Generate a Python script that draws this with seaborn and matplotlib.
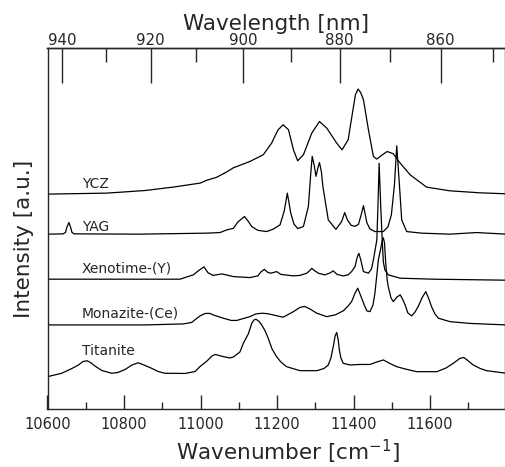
import numpy as np
import pandas as pd
import matplotlib
matplotlib.use('Agg')
import matplotlib.pyplot as plt
from matplotlib.ticker import MultipleLocator, FixedLocator
import seaborn as sns

# Spectra (wavenumber in cm-1, intensity offset in a.u.).

samples = ['YCZ', 'YAG', 'Xenotime-(Y)', 'Monazite-(Ce)', 'Titanite']

ycz_wn = [10600, 10755, 10855, 10928, 10999, 11016, 11042, 11069, 11086, 11129, 11164, 11186,
          11195, 11203, 11216, 11230, 11243, 11254, 11269, 11291, 11311, 11330, 11356, 11370,
          11386, 11400, 11405, 11412, 11419, 11426, 11439, 11452, 11461, 11472, 11488, 11504,
          11522, 11548, 11591, 11652, 11731, 11800]
ycz_int = [214.7, 215.7, 218.3, 221.7, 225.7, 228.5, 231.5, 237, 241, 247.3, 254, 265.7,
           273, 279, 284, 279, 259, 248, 254, 275.7, 287.3, 280.7, 265.7, 259,
           269, 302.3, 314, 319.7, 316, 309, 279, 252.3, 249.7, 253, 257.3, 255,
           245.7, 234, 221.7, 218, 216, 215]

yag_wn = [10600, 10641, 10647, 10651, 10656, 10660, 10664, 10669, 10842, 11016, 11051, 11069,
          11086, 11098, 11115, 11124, 11134, 11150, 11173, 11190, 11208, 11219, 11227, 11236,
          11244, 11254, 11269, 11282, 11288, 11292, 11297, 11302, 11307, 11311, 11316, 11320,
          11334, 11354, 11369, 11377, 11384, 11394, 11404, 11413, 11420, 11426, 11435, 11443,
          11456, 11478, 11490, 11499, 11507, 11513, 11520, 11526, 11539, 11578, 11652, 11722,
          11800]
yag_int = [174.7, 175, 176.5, 182, 186.3, 182, 176.5, 175, 174.7, 175.7, 176.3, 179,
           180.5, 187, 192.3, 188, 182.3, 178.5, 177.3, 179.7, 184, 198, 215.7, 195.7,
           185, 180.3, 182.3, 202.3, 234, 252.5, 244, 232.5, 241, 246.3, 237, 222.3,
           189, 179.5, 187.3, 196.3, 189, 183.5, 182.5, 184.5, 194, 203.2, 186, 180,
           177.3, 177.3, 182, 194, 224, 263, 224, 189, 177.3, 175.7, 174.7, 176.3,
           174.7]

xen_wn = [10600, 10946, 10981, 10994, 11009, 11020, 11033, 11056, 11067, 11086, 11129, 11150,
          11158, 11167, 11176, 11184, 11199, 11210, 11243, 11260, 11278, 11286, 11291, 11299,
          11308, 11325, 11339, 11347, 11357, 11373, 11386, 11395, 11404, 11410, 11414, 11419,
          11426, 11439, 11447, 11452, 11461, 11464, 11467, 11471, 11475, 11478, 11482, 11491,
          11522, 11609, 11800]
xen_int = [129.7, 129.7, 134, 138, 142, 136, 133.5, 135, 134, 132.3, 131.3, 133,
           137, 139.5, 136.5, 135.7, 137.3, 134.5, 133, 133.5, 135.7, 138.5, 140.5, 138,
           135.7, 134, 136, 138, 134.5, 133, 134, 137.3, 142.3, 152, 155.5, 149,
           137.3, 135.7, 140, 149, 169, 204, 245.5, 204, 169, 147, 139, 134,
           130.7, 129.7, 128.7]

mon_wn = [10600, 10855, 10955, 10977, 10990, 11001, 11013, 11025, 11033, 11060, 11080, 11095,
          11129, 11145, 11161, 11176, 11190, 11216, 11243, 11260, 11272, 11286, 11304, 11330,
          11352, 11373, 11386, 11395, 11404, 11411, 11418, 11428, 11435, 11443, 11451, 11456,
          11465, 11471, 11475, 11478, 11481, 11484, 11488, 11491, 11498, 11504, 11514, 11522,
          11528, 11535, 11542, 11552, 11561, 11569, 11579, 11589, 11596, 11604, 11613, 11622,
          11652, 11705, 11800]
mon_int = [84, 84, 85, 86.5, 90.5, 93.5, 95.5, 95.5, 94, 90.7, 88.5, 88.5,
           92.3, 95, 95.7, 95.2, 94, 91.7, 97.3, 101.5, 102.5, 100, 95.7, 92.3,
           94, 98, 103, 107.3, 115.7, 120.7, 114, 104, 98, 97.3, 104, 115.7,
           149, 160, 168, 171, 166, 147, 129, 122, 111, 107.3, 112, 114,
           110, 104, 96, 93, 97, 102.3, 111, 117.3, 111, 102.3, 95, 90.7,
           87.3, 85.5, 84]

tit_wn = [10600, 10637, 10664, 10681, 10693, 10704, 10714, 10724, 10742, 10768, 10784, 10803,
          10821, 10837, 10852, 10872, 10889, 10907, 10960, 10986, 10999, 11017, 11030, 11039,
          11048, 11060, 11077, 11086, 11103, 11112, 11125, 11134, 11140, 11145, 11153, 11160,
          11169, 11177, 11187, 11199, 11210, 11225, 11260, 11304, 11323, 11334, 11341, 11347,
          11352, 11356, 11360, 11363, 11367, 11373, 11391, 11417, 11443, 11461, 11478, 11495,
          11513, 11535, 11565, 11618, 11642, 11661, 11678, 11688, 11697, 11713, 11731, 11748,
          11800]
tit_int = [32.3, 35.7, 40.5, 44, 47.5, 48.2, 46, 43, 38.5, 35.7, 36.5, 39.5,
           44, 46.2, 44, 40.7, 37.5, 35.7, 35.5, 37.5, 42.5, 48, 53, 54.5,
           53.5, 52.3, 51, 52, 57, 65.7, 75, 85.7, 89, 89.7, 87.5, 84,
           78, 70.7, 60, 52.3, 47, 42.3, 38.3, 38.3, 40.5, 44, 51, 62.3,
           73, 76.5, 69, 59, 51, 45.7, 44, 44.5, 44.5, 47, 49, 45.5,
           42.3, 40, 37.3, 37.3, 41, 45.7, 50.5, 51.5, 49, 44, 40.5, 38.3,
           35.7]

# Label baselines next to each trace.
label_y = [220.7, 177.5, 136.7, 91.7, 54]

nm_major = [940, 920, 900, 880, 860]
nm_minor = [930, 910, 890, 870, 850]

# Build long-form table.

frames = []
for name, wn, inten in zip(samples,
                           [ycz_wn, yag_wn, xen_wn, mon_wn, tit_wn],
                           [ycz_int, yag_int, xen_int, mon_int, tit_int]):
    frames.append(pd.DataFrame({'wavenumber': wn, 'intensity': inten, 'sample': name}))
spectra = pd.concat(frames, ignore_index=True)

sns.set_style('ticks')
plt.rcParams['font.family'] = ['DejaVu Sans']

fig = plt.figure(figsize=(5.05, 4.67), dpi=100)
ax = fig.add_axes([47.5 / 505, (467 - 409) / 467, 457.1 / 505, (409 - 47.7) / 467])

sns.lineplot(data=spectra, x='wavenumber', y='intensity', hue='sample',
             palette={s: 'black' for s in samples}, estimator=None, sort=False,
             legend=False, linewidth=0.9, ax=ax)

for name, yy in zip(samples, label_y):
    ax.text(10690, yy, name, fontsize=10, va='baseline', ha='left')

ax.set_xlim(10600, 11795)
ax.set_ylim(0, 361)
ax.set_yticks([])
ax.xaxis.set_major_locator(MultipleLocator(200))
ax.xaxis.set_minor_locator(MultipleLocator(100))
ax.tick_params(axis='x', which='major', direction='in', length=10, width=1,
               labelsize=10.5, pad=6, top=False)
ax.tick_params(axis='x', which='minor', direction='in', length=5, width=1, top=False)
ax.set_xlabel('Wavenumber [cm$^{-1}$]', fontsize=15.5)
ax.xaxis.set_label_coords(0.527, -0.08)
ax.set_ylabel('Intensity [a.u.]', fontsize=15.5)
ax.yaxis.set_label_coords(-0.03, 0.47)
for sp in ax.spines.values():
    sp.set_linewidth(1.0)

# Wavelength axis on top.

sec = ax.secondary_xaxis('top', functions=(lambda x: 1e7 / x, lambda x: 1e7 / x))
sec.set_xticks(nm_major)
sec.xaxis.set_minor_locator(FixedLocator(nm_minor))
sec.tick_params(axis='x', which='major', direction='in', length=25, width=1,
                labelsize=10.8, pad=0)
sec.tick_params(axis='x', which='minor', direction='in', length=10, width=1)
sec.set_xlabel('Wavelength [nm]', fontsize=15.5, labelpad=2)
sec.spines['top'].set_linewidth(1.0)

fig.savefig('out.png', dpi=100)
